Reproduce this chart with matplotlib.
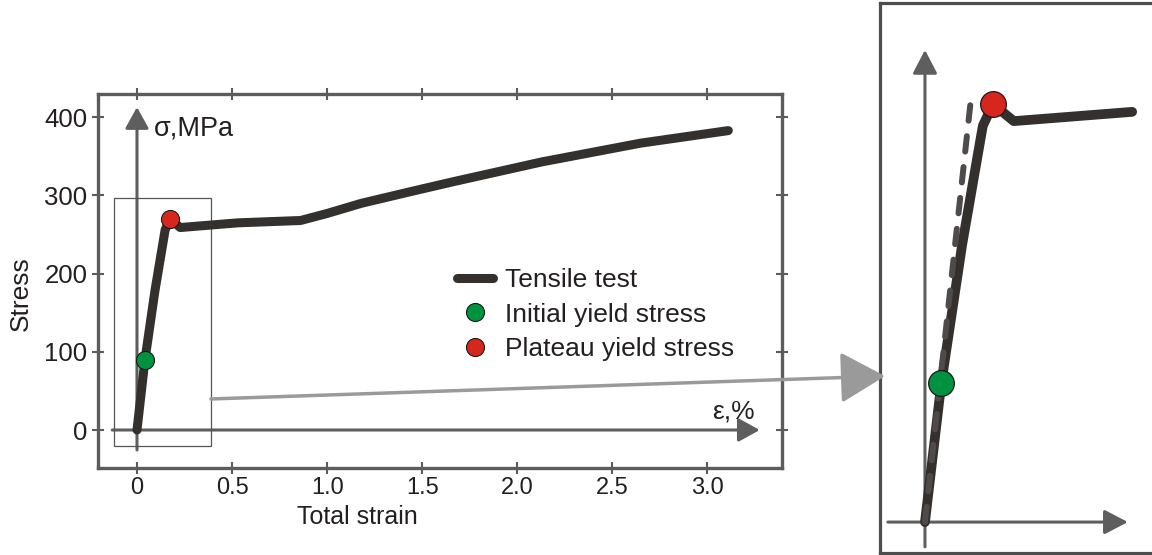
import matplotlib
matplotlib.use("Agg")
import matplotlib.pyplot as plt
from matplotlib.lines import Line2D
from matplotlib.patches import Rectangle, ConnectionPatch

# Tensile test curve (total strain in %, stress in MPa)
strain = [0.0, 0.042, 0.095, 0.148, 0.174, 0.227, 0.53, 0.86, 1.0, 1.18, 1.44, 1.67, 2.13, 2.65, 3.11]
stress = [0.0, 90, 179, 256, 270, 259, 265, 268, 277, 290, 305, 318, 343, 367, 383]

# Yield points
initial_yield = (0.042, 90)
plateau_yield = (0.174, 270)

# Linear-elastic extension shown in the close-up
elastic_strain = [0.0, 0.12]
elastic_stress = [0.0, 279]

x_ticks = [0, 0.5, 1.0, 1.5, 2.0, 2.5, 3.0]
x_tick_labels = ["0", "0.5", "1.0", "1.5", "2.0", "2.5", "3.0"]
y_ticks = [0, 100, 200, 300, 400]

# Zoomed region of the main plot
zoom_x = (-0.121, 0.389)
zoom_y = (-20.5, 296.3)
inset_strain_max = 0.53

CURVE = "#34302e"
SPINE = "#5c5c5c"
AXARROW = "#5e5e5e"
TEXT = "#231f20"
GREEN = "#00923f"
RED = "#d7261e"
BIGARROW = "#9a9a9a"

plt.rcParams["font.family"] = ["Liberation Sans", "DejaVu Sans"]

fig = plt.figure(figsize=(11.52, 5.55), dpi=100)

# ---------------- main stress-strain plot ----------------
ax = fig.add_axes([0.0848, 0.1562, 0.5938, 0.6744])
ax.set_xlim(-0.2067, 3.391)
ax.set_ylim(-49, 429.8)

for s in ax.spines.values():
    s.set_color(SPINE)
    s.set_linewidth(2.4)

ax.set_xticks(x_ticks)
ax.set_xticklabels(x_tick_labels, fontsize=17, color=TEXT)
ax.set_yticks(y_ticks)
ax.set_yticklabels([str(v) for v in y_ticks], fontsize=18.5, color=TEXT)
ax.tick_params(axis="both", direction="inout", length=8.6, width=1.5,
               color=SPINE, top=True, right=True)
ax.tick_params(axis="x", pad=2.2)
ax.tick_params(axis="y", pad=3.2)

ax.set_xlabel("Total strain", fontsize=18, color=TEXT)
ax.xaxis.set_label_coords(0.38, -0.097)
ax.set_ylabel("Stress", fontsize=19, color=TEXT)
ax.yaxis.set_label_coords(-0.095, 0.468)

# axis arrows inside the plot
ax.annotate("", xy=(0, 413), xytext=(0, -25.6),
            arrowprops=dict(arrowstyle="-|>,head_length=13,head_width=7.2",
                            mutation_scale=1, color=AXARROW, lw=2.2,
                            shrinkA=0, shrinkB=0), zorder=2)
ax.annotate("", xy=(3.275, 0), xytext=(-0.13, 0),
            arrowprops=dict(arrowstyle="-|>,head_length=13,head_width=7.2",
                            mutation_scale=1, color=AXARROW, lw=2.2,
                            shrinkA=0, shrinkB=0), zorder=2)
ax.text(0.09, 377, "σ,MPa", fontsize=19.5, color=TEXT, ha="left", va="baseline")
ax.text(3.025, 15, "ε,%", fontsize=19, color=TEXT, ha="left", va="baseline")

ax.plot(strain, stress, color=CURVE, lw=6.5, solid_capstyle="round",
        solid_joinstyle="round", zorder=3)
ax.plot(*initial_yield, "o", ms=13, mfc=GREEN, mec="#1a1a1a", mew=0.8, zorder=4)
ax.plot(*plateau_yield, "o", ms=13, mfc=RED, mec="#1a1a1a", mew=0.8, zorder=4)

ax.add_patch(Rectangle((zoom_x[0], zoom_y[0]), zoom_x[1] - zoom_x[0],
                       zoom_y[1] - zoom_y[0], fill=False, ec="#555555",
                       lw=0.9, zorder=2.5))

handles = [
    Line2D([], [], color=CURVE, lw=6.5, solid_capstyle="round"),
    Line2D([], [], ls="none", marker="o", ms=13, mfc=GREEN, mec="#1a1a1a", mew=0.8),
    Line2D([], [], ls="none", marker="o", ms=13, mfc=RED, mec="#1a1a1a", mew=0.8),
]
labels = ["Tensile test", "Initial yield stress", "Plateau yield stress"]
leg = fig.legend(handles, labels, loc="center left",
                 bbox_to_anchor=(0.3971, 0.4333), bbox_transform=fig.transFigure,
                 frameon=False, fontsize=19, handlelength=1.36,
                 handletextpad=0.44, labelspacing=0.4, borderpad=0,
                 borderaxespad=0)
for t in leg.get_texts():
    t.set_color(TEXT)

# ---------------- close-up of the elastic region ----------------
axin = fig.add_axes([0.7639, 0.003, 0.2474, 0.991])
axin.set_xlim(-0.115, 0.614)
axin.set_ylim(-20.2, 335.1)
axin.set_xticks([])
axin.set_yticks([])
for s in axin.spines.values():
    s.set_color("#4d4d4d")
    s.set_linewidth(2.3)

axin.annotate("", xy=(0, 305), xytext=(0, -16),
              arrowprops=dict(arrowstyle="-|>,head_length=14.4,head_width=7.5",
                              mutation_scale=1, color=AXARROW, lw=2.2,
                              shrinkA=0, shrinkB=0), zorder=2)
axin.annotate("", xy=(0.519, 0), xytext=(-0.095, 0),
              arrowprops=dict(arrowstyle="-|>,head_length=14.4,head_width=7.5",
                              mutation_scale=1, color=AXARROW, lw=2.2,
                              shrinkA=0, shrinkB=0), zorder=2)

in_strain = [e for e in strain if e <= inset_strain_max]
in_stress = stress[:len(in_strain)]
axin.plot(in_strain, in_stress, color=CURVE, lw=7, solid_capstyle="round",
          solid_joinstyle="round", zorder=3)
axin.plot(elastic_strain, elastic_stress, color="#4f4b4b", lw=4.3,
          dashes=(2.6, 2.6), dash_capstyle="round", zorder=3.5)
axin.plot(*initial_yield, "o", ms=18.5, mfc=GREEN, mec="#1a1a1a", mew=0.9, zorder=4)
axin.plot(*plateau_yield, "o", ms=18.5, mfc=RED, mec="#1a1a1a", mew=0.9, zorder=4)

# connector from the zoom box to the close-up
con = ConnectionPatch(xyA=(zoom_x[1], 39.7), coordsA=ax.transData,
                      xyB=(-0.102, 94.3), coordsB=axin.transData,
                      arrowstyle="-|>,head_length=28,head_width=16",
                      mutation_scale=1, color=BIGARROW, lw=2.5,
                      shrinkA=0, shrinkB=0)
fig.add_artist(con)

fig.savefig("out.png", dpi=100)
